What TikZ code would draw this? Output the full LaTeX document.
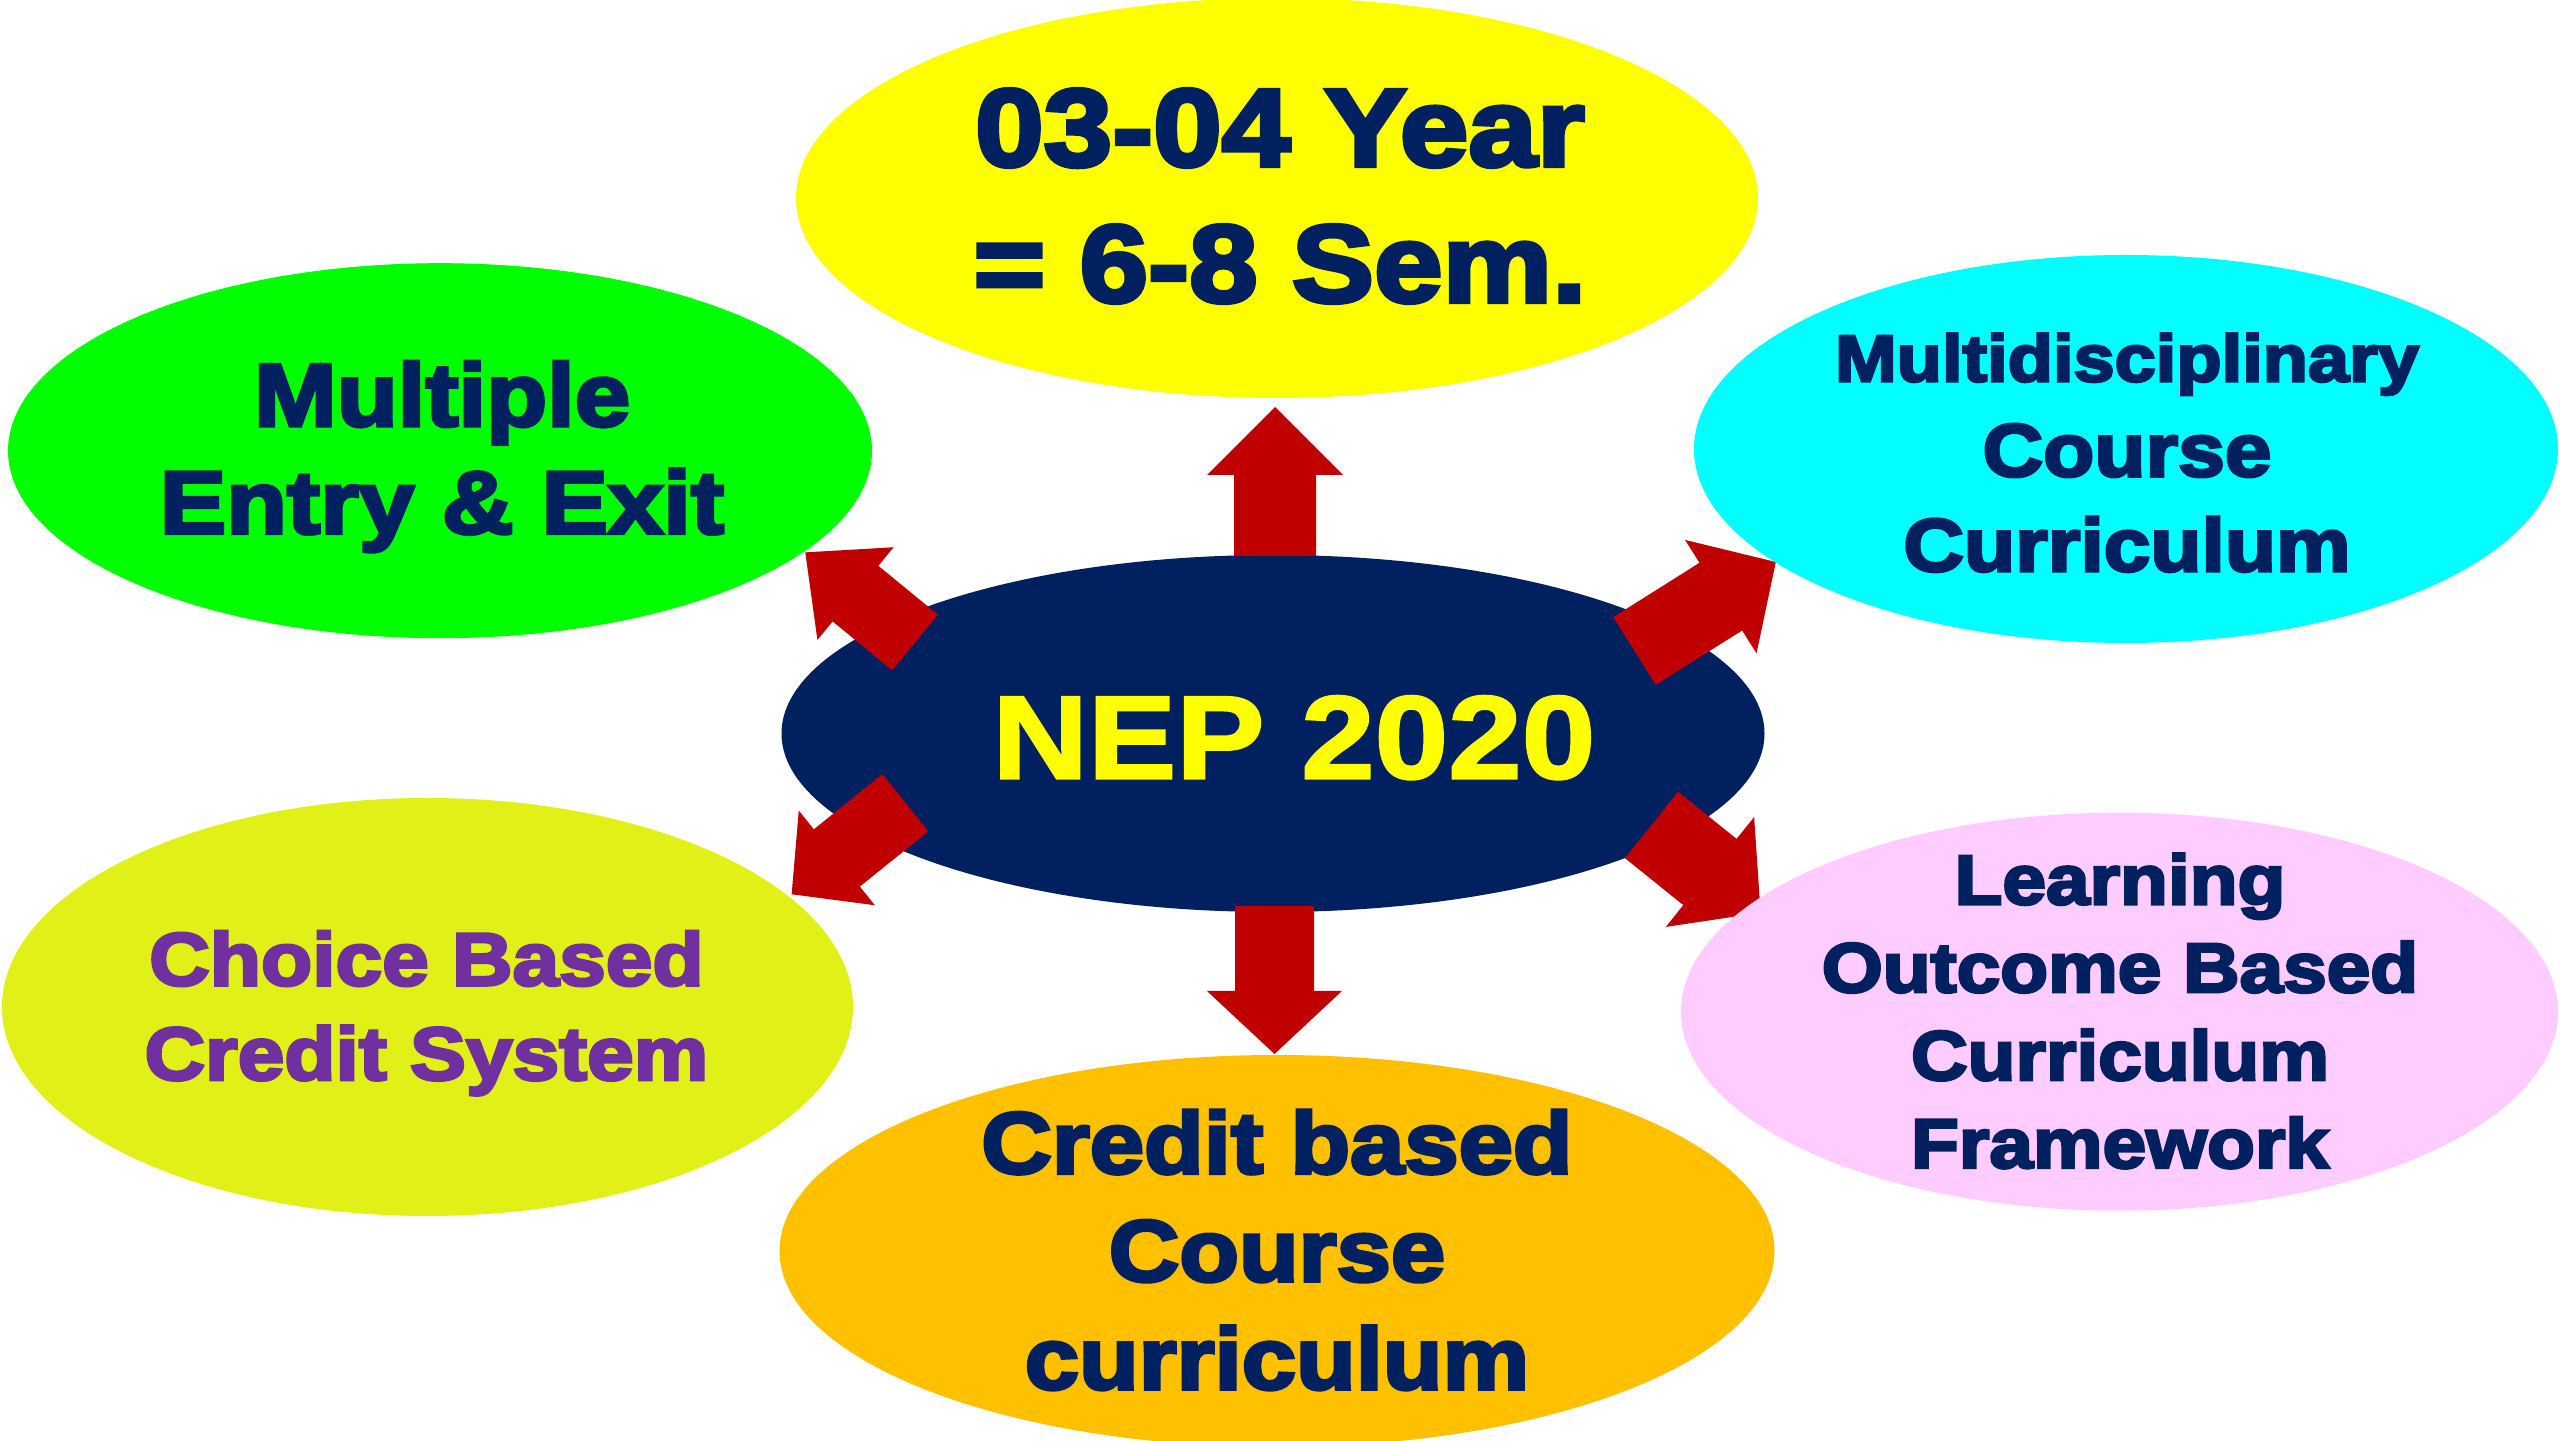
\documentclass[tikz,border=0pt]{standalone}
\usepackage{fontspec}
\usepackage[dvipsnames]{xcolor}
\usetikzlibrary{shapes.geometric}

\newfontfamily\nepfont{Liberation Sans}[UprightFont={* Bold}, FakeStretch=1.12, FakeBold=2]
\newfontfamily\bubblefont{Liberation Sans}[UprightFont={* Bold}, FakeStretch=1.12, FakeBold=4]

\definecolor{nepblue}{HTML}{002060}
\definecolor{arrowred}{HTML}{C00000}
\definecolor{yearyellow}{HTML}{FFFF00}
\definecolor{entrygreen}{HTML}{00FF00}
\definecolor{disccyan}{HTML}{00FFFF}
\definecolor{choicelime}{HTML}{E1F016}
\definecolor{creditorange}{HTML}{FFC000}
\definecolor{outcomepink}{HTML}{FFCCFF}
\definecolor{choicepurple}{HTML}{7030A0}

\begin{document}
\begin{tikzpicture}[
    bubble/.style={ellipse, inner sep=0pt, draw=none},
    btext/.style={align=center, text=nepblue, inner sep=0pt},
    redarr/.style={fill=arrowred, draw=none}
  ]
\useasboundingbox (0,0) rectangle (25.6,14.4);

% Centre ellipse
\node[bubble, fill=nepblue, minimum width=9.83cm, minimum height=3.57cm] (nep) at (12.73,7.065) {};

% Block arrows going out of the centre: tail x / tail y / angle / shaft / head / half width / head half width
\foreach \x/\y/\a/\s/\h/\w/\k in {12.75/8.84/90/0.81/0.68/0.41/0.68,
                                   12.745/5.34/-90/0.85/0.63/0.395/0.675,
                                   16.345/7.89/32.2/1.02/0.65/0.40/0.67,
                                   9.15/7.975/140.6/0.77/0.65/0.36/0.60,
                                   9.054/6.372/218.8/0.88/0.58/0.367/0.607,
                                   16.515/6.15/-38.8/0.75/0.65/0.425/0.705} {
    \fill[redarr, shift={(\x,\y)}, rotate=\a] (0,-\w) -- (\s,-\w) -- (\s,-\k) -- ({\s+\h},0) -- (\s,\k) -- (\s,\w) -- (0,\w) -- cycle;
}

\node[btext, text=yearyellow, font=\nepfont\fontsize{33.6}{40}\selectfont] (nep-txt) at (12.94,7.023) {NEP 2020};

% Outer ellipses
\node[bubble, fill=yearyellow, minimum width=9.62cm, minimum height=4.0cm] (yr) at (12.77,12.42) {};
\node[bubble, fill=entrygreen, minimum width=8.64cm, minimum height=3.75cm] (mee) at (4.40,9.893) {};
\node[bubble, fill=disccyan, minimum width=8.64cm, minimum height=3.88cm] (mdc) at (21.26,9.91) {};
\node[bubble, fill=choicelime, minimum width=8.51cm, minimum height=4.18cm] (cbcs) at (4.275,4.33) {};
\node[bubble, fill=creditorange, minimum width=9.95cm, minimum height=3.92cm] (cbc) at (12.77,1.89) {};
\node[bubble, fill=outcomepink, minimum width=8.77cm, minimum height=3.98cm] (lobf) at (21.195,4.283) {};

% Texts of the ellipses
\node[btext, font=\bubblefont\fontsize{31.3}{38.7}\selectfont] (yr-txt) at (12.80,12.44) {03-04 Year\\= 6-8 Sem.};
\node[btext, font=\bubblefont\fontsize{25.3}{30.6}\selectfont] (mee-txt) at (4.42,9.833) {Multiple\\Entry \& Exit};
\node[btext, font=\bubblefont\fontsize{21.3}{27}\selectfont] (mdc-txt) at (21.27,9.873) {{\fontsize{18.8}{27}\selectfont Multidisciplinary}\\Course\\Curriculum};
\node[btext, text=choicepurple, font=\bubblefont\fontsize{21.3}{26.9}\selectfont] (cbcs-txt) at (4.265,4.268) {Choice Based\\Credit System};
\node[btext, font=\bubblefont\fontsize{24.8}{30.7}\selectfont] (cbc-txt) at (12.77,1.90) {Credit based\\Course\\curriculum};
\node[btext, font=\bubblefont\fontsize{19.9}{25}\selectfont] (lobf-txt) at (21.20,4.29) {Learning\\Outcome Based\\Curriculum\\Framework};

\end{tikzpicture}
\end{document}
